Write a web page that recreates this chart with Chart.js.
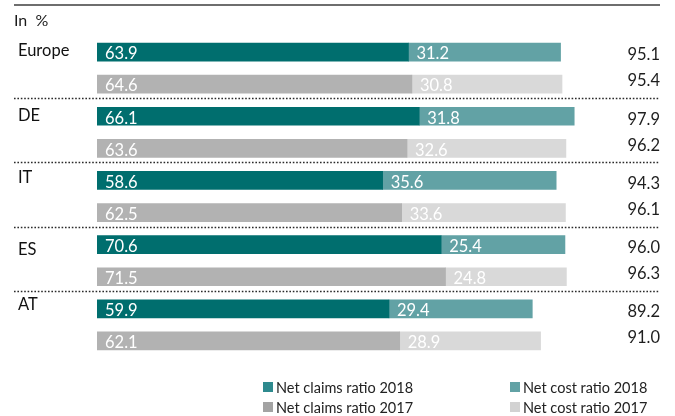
<!DOCTYPE html>
<html>
<head>
<meta charset="utf-8">
<script src="https://cdn.jsdelivr.net/npm/chart.js@4"></script>
<style>
  html, body { margin: 0; padding: 0; background: #fff; }
  #wrap { position: relative; width: 675px; height: 416px; }
</style>
</head>
<body>
<div id="wrap"><canvas id="myChart" width="675" height="416"></canvas></div>
<script>
// regions, each with a 2018 row and a 2017 row
const regions = ['Europe', 'DE', 'IT', 'ES', 'AT'];
const rowLabels = ['Europe 2018', 'Europe 2017', 'DE 2018', 'DE 2017', 'IT 2018', 'IT 2017',
                   'ES 2018', 'ES 2017', 'AT 2018', 'AT 2017'];

const claims2018 = [63.9, 66.1, 58.6, 70.6, 59.9];
const cost2018   = [31.2, 31.8, 35.6, 25.4, 29.4];
const claims2017 = [64.6, 63.6, 62.5, 71.5, 62.1];
const cost2017   = [30.8, 32.6, 33.6, 24.8, 28.9];
const total2018  = ['95.1', '97.9', '94.3', '96.0', '89.2'];
const total2017  = ['95.4', '96.2', '96.1', '96.3', '91.0'];

const legendNames = ['Net claims ratio 2018', 'Net cost ratio 2018', 'Net claims ratio 2017', 'Net cost ratio 2017'];

// spread a per-region array onto the 2018 or 2017 rows
const onRows = (arr, yearIdx) => {
  const out = [];
  arr.forEach(v => { out.push(yearIdx === 0 ? v : null); out.push(yearIdx === 1 ? v : null); });
  return out;
};

const FONT = 'Lato, "DejaVu Sans", sans-serif';

const decor = {
  id: 'decor',
  afterDatasetsDraw(chart) {
    const ctx = chart.ctx;
    const y = chart.scales.y;
    ctx.save();

    // top rule
    ctx.strokeStyle = '#6e6e6e';
    ctx.lineWidth = 2;
    ctx.beginPath(); ctx.moveTo(14, 5); ctx.lineTo(660, 5); ctx.stroke();

    ctx.fillStyle = '#1a1a1a';
    ctx.font = '16px ' + FONT;
    ctx.textBaseline = 'middle';
    ctx.textAlign = 'left';
    ctx.fillText('In  %', 14, 21);

    // value labels inside segments
    ctx.fillStyle = '#ffffff';
    ctx.font = '16.5px ' + FONT;
    chart.data.datasets.forEach((ds, di) => {
      const meta = chart.getDatasetMeta(di);
      meta.data.forEach((bar, i) => {
        const v = ds.data[i];
        if (v == null) return;
        const left = Math.min(bar.x, bar.base);
        ctx.fillText(v.toFixed(1), left + 8, bar.y + 2);
      });
    });

    // region names, totals, separators
    ctx.font = '16.5px ' + FONT;
    const nudge = [-1, -1, -3, 5, -4];
    regions.forEach((r, i) => {
      const y18 = y.getPixelForValue(i * 2);
      const y17 = y.getPixelForValue(i * 2 + 1);
      ctx.fillStyle = '#111';
      ctx.textAlign = 'left';
      ctx.fillText(r, 18, y18 + nudge[i]);
      ctx.textAlign = 'right';
      ctx.fillStyle = '#1e1e1e';
      ctx.fillText(total2018[i], 660, y18 + 3);
      ctx.fillText(total2017[i], 660, y17 - 3);
      if (i < regions.length - 1) {
        const sy = Math.round(y17 + 14) + 0.5;
        ctx.strokeStyle = '#2a2a2a';
        ctx.lineWidth = 1.6;
        ctx.setLineDash([1.6, 1.8]);
        ctx.beginPath(); ctx.moveTo(14, sy); ctx.lineTo(660, sy); ctx.stroke();
        ctx.setLineDash([]);
      }
    });

    // legend, two columns
    const legendColors = ['#2e8a8e', '#62a2a5', '#a3a3a3', '#d2d2d2'];
    ctx.font = '14.5px ' + FONT;
    ctx.textAlign = 'left';
    legendNames.forEach((name, k) => {
      const lx = k % 2 === 0 ? 263 : 510;
      const ly = k < 2 ? 387 : 407;
      ctx.fillStyle = legendColors[k];
      ctx.fillRect(lx, ly - 5, 10, 10);
      ctx.fillStyle = '#222';
      ctx.fillText(name, lx + 13, ly + 1);
    });

    ctx.restore();
  }
};

new Chart(
  document.getElementById('myChart'),
  {
    type: 'bar',
    data: {
      labels: rowLabels,
      datasets: [
        { label: legendNames[0], data: onRows(claims2018, 0), backgroundColor: '#006e6e' },
        { label: legendNames[1], data: onRows(cost2018, 0),   backgroundColor: '#62a2a5' },
        { label: legendNames[2], data: onRows(claims2017, 1), backgroundColor: '#b2b2b2' },
        { label: legendNames[3], data: onRows(cost2017, 1),   backgroundColor: '#d9d9d9' }
      ]
    },
    options: {
      indexAxis: 'y',
      responsive: false,
      animation: false,
      barThickness: 18,
      skipNull: true,
      layout: { padding: { left: 97, right: 15, top: 36, bottom: 59 } },
      scales: {
        x: { stacked: true, min: 0, max: 115.5, display: false },
        y: { stacked: true, display: false }
      },
      plugins: {
        legend: { display: false },
        tooltip: { enabled: false }
      }
    },
    plugins: [decor]
  }
);
</script>
</body>
</html>
